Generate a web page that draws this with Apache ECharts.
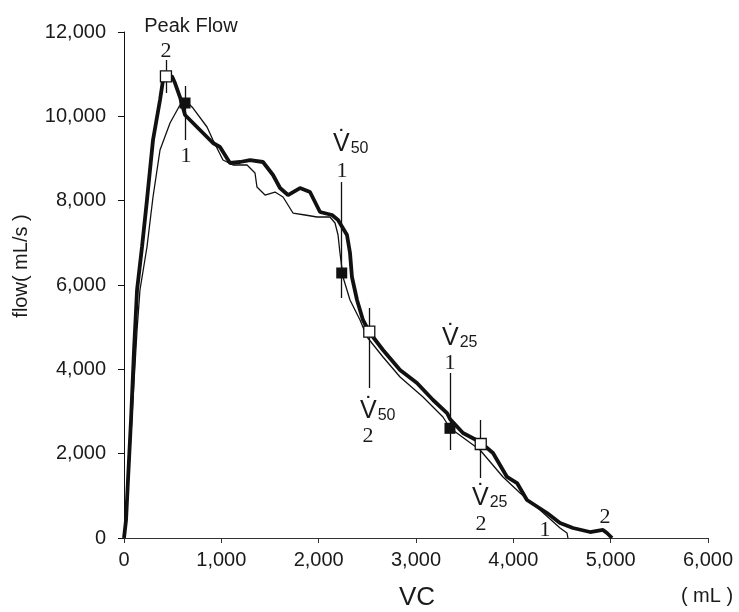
<!DOCTYPE html>
<html><head><meta charset="utf-8">
<script src="https://cdn.jsdelivr.net/npm/echarts@6/dist/echarts.min.js"></script>
<style>html,body{margin:0;padding:0;background:#fff}#c{width:739px;height:612px}</style>
</head><body><div id="c"></div>
<script>
// Curve 1 (thin line) : [volume mL, flow mL/s]
const curve1 = [[0,0],[21,545],[51,1613],[92,3273],[134,4933],[164,5881],[236,6901],[298,8087],[370,9201],[473,9842],[575,10269],[647,10340],[709,10197],[853,9747],[914,9439],[1017,8964],[1120,8846],[1264,8846],[1295,8775],[1346,8656],[1366,8324],[1449,8134],[1551,8205],[1634,8087],[1736,7707],[1860,7660],[1983,7613],[2116,7613],[2168,7470],[2199,7186],[2219,6759],[2250,6190],[2322,5644],[2425,5170],[2497,4767],[2661,4292],[2836,3818],[3072,3344],[3277,2870],[3349,2609],[3658,2087],[3894,1447],[4069,1067],[4274,664],[4480,237],[4551,119],[4561,0]];
// Curve 2 (thick line)
const curve2 = [[0,0],[21,427],[41,1376],[72,2799],[103,4459],[134,5881],[185,6901],[236,8016],[298,9439],[370,10387],[401,10861],[442,10950],[493,10950],[524,10790],[575,10458],[627,10031],[750,9747],[914,9367],[986,9273],[1089,8893],[1192,8917],[1295,8964],[1428,8917],[1531,8609],[1603,8300],[1685,8134],[1808,8300],[1911,8205],[2014,7731],[2137,7660],[2199,7541],[2291,7186],[2322,6759],[2342,6190],[2394,5644],[2455,5170],[2527,4862],[2661,4459],[2836,3984],[3010,3676],[3175,3273],[3319,2964],[3349,2822],[3483,2490],[3658,2277],[3791,2016],[3935,1447],[4038,1304],[4140,901],[4346,593],[4480,356],[4613,237],[4788,142],[4921,190],[4962,119],[5014,0]];
// Measured points (Peak Flow, V50, V25)
const markers1 = [[627,10316],[2237,6285],[3349,2601]];
const markers2 = [[431,10950],[2520,4893],[3665,2229]];
// Vertical bars: [x, top, bottom]
const bars1 = [[627,10719,9439],[2237,8442,5692],[3349,3913,2087]];
const bars2 = [[431,11336,10553],[2520,5454,3557],[3665,2798,1423]];
// Tick labels
const xTickValues = [0,1000,2000,3000,4000,5000,6000];
const xTickLabels = ['0','1,000','2,000','3,000','4,000','5,000','6,000'];
const yTickValues = [0,2000,4000,6000,8000,10000,12000];
const yTickLabels = ['0','2,000','4,000','6,000','8,000','10,000','12,000'];
// Annotations
const numLabels = [['2',432,11549],['1',637,9059],['1',2240,8703],['2',2507,2419],['1',3349,4150],['2',3668,332],['1',4325,190],['2',4942,498]];
const vLabels = [['50',2147,9344],['50',2425,3012],['25',3267,4743],['25',3575,949]];
const titleLabel = ['Peak Flow',688,12142];

const SANS = "'Liberation Sans', Arial, sans-serif";
const SERIF = "'Liberation Serif', 'Times New Roman', serif";
const INK = '#111';
const TXT = '#1a1a1a';

const chart = echarts.init(document.getElementById('c'), null, {renderer:'canvas'});
chart.setOption({
  animation:false,
  backgroundColor:'#fff',
  grid:{left:124,right:31,top:32,bottom:74},
  xAxis:{type:'value',min:0,max:6000,interval:1000,
    axisLine:{show:true,lineStyle:{color:'#333',width:1}},
    axisTick:{show:true,length:5,lineStyle:{color:'#333'}},
    splitLine:{show:false},
    axisLabel:{margin:12,fontFamily:SANS,fontSize:20,color:TXT,
      formatter:v=>{const i=xTickValues.indexOf(v);return i>=0?xTickLabels[i]:'';}}},
  yAxis:{type:'value',min:0,max:12000,interval:2000,
    axisLine:{show:true,lineStyle:{color:'#111',width:1}},
    axisTick:{show:true,length:6,lineStyle:{color:'#111'}},
    splitLine:{show:false},
    axisLabel:{margin:18,fontFamily:SANS,fontSize:20,color:TXT,
      formatter:v=>{const i=yTickValues.indexOf(v);return i>=0?yTickLabels[i]:'';}}},
  graphic:[
    {type:'text',x:21,y:266,rotation:Math.PI/2,style:{text:'flow( mL/s )',font:"20px 'Liberation Sans', Arial, sans-serif",fill:TXT,align:'center',verticalAlign:'middle'}},
    {type:'text',x:417,y:598,style:{text:'VC',font:"26px 'Liberation Sans', Arial, sans-serif",fill:TXT,align:'center',verticalAlign:'middle'}},
    {type:'text',x:707,y:596,style:{text:'( mL )',font:"20px 'Liberation Sans', Arial, sans-serif",fill:TXT,align:'center',verticalAlign:'middle'}}
  ],
  series:[
    {type:'line',data:curve1,showSymbol:false,symbol:'none',lineStyle:{color:INK,width:1.3},z:2,silent:true},
    {type:'line',data:curve2,showSymbol:false,symbol:'none',lineStyle:{color:INK,width:3.8},z:3,silent:true},
    {type:'scatter',data:[],z:4,silent:true,
      markLine:{symbol:['none','none'],silent:true,label:{show:false},animation:false,
        lineStyle:{color:INK,width:1.3,type:'solid',opacity:1},
        data:bars1.concat(bars2).map(b=>[{coord:[b[0],b[1]]},{coord:[b[0],b[2]]}])}},
    {type:'scatter',data:markers1,symbol:'rect',symbolSize:11,itemStyle:{color:INK,opacity:1},z:6,silent:true},
    {type:'scatter',data:markers2,symbol:'rect',symbolSize:11,itemStyle:{color:'#fff',borderColor:INK,borderWidth:1.3,opacity:1},z:6,silent:true},
    {type:'scatter',clip:false,symbolSize:0,silent:true,z:7,itemStyle:{opacity:1},
      data:numLabels.map(l=>({value:[l[1],l[2]],name:l[0]})),
      label:{show:true,position:'inside',formatter:p=>p.name,fontFamily:SERIF,fontSize:22,color:TXT}},
    {type:'scatter',clip:false,symbolSize:0,silent:true,z:7,itemStyle:{opacity:1},
      data:[{value:[titleLabel[1],titleLabel[2]],name:titleLabel[0]}],
      label:{show:true,position:'inside',formatter:p=>p.name,fontFamily:SANS,fontSize:20,color:TXT}},
    {type:'scatter',clip:false,symbolSize:0,silent:true,z:7,itemStyle:{opacity:1},
      data:vLabels.map(l=>({value:[l[1],l[2]],name:l[0]})),
      label:{show:true,position:[0,0],align:'left',verticalAlign:'middle',
        formatter:p=>'{v|V\u0307}{s|'+p.name+'}',
        rich:{v:{fontFamily:SANS,fontSize:25,color:TXT,lineHeight:30,verticalAlign:'middle'},
              s:{fontFamily:SANS,fontSize:16,color:TXT,lineHeight:30,padding:[10,0,0,1],verticalAlign:'middle'}}}}
  ]
});
</script></body></html>
